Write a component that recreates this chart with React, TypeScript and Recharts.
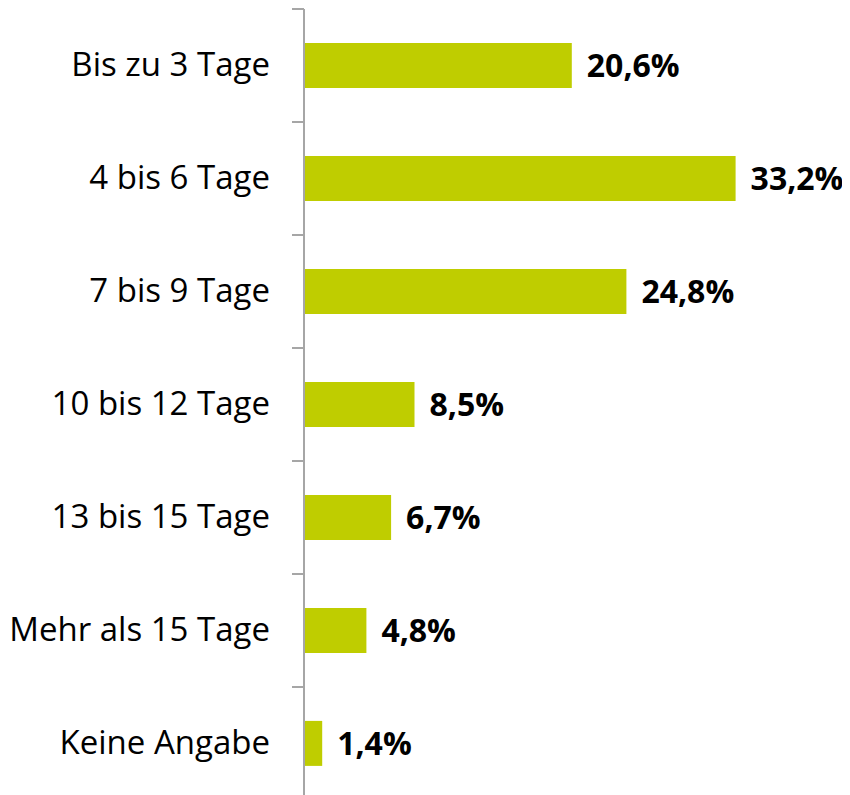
import React from 'react'
import { BarChart, Bar, XAxis, YAxis, LabelList } from 'recharts'

const categories = [
  'Bis zu 3 Tage',
  '4 bis 6 Tage',
  '7 bis 9 Tage',
  '10 bis 12 Tage',
  '13 bis 15 Tage',
  'Mehr als 15 Tage',
  'Keine Angabe',
]
const shares = [20.6, 33.2, 24.8, 8.5, 6.7, 4.8, 1.4]

const data = categories.map((name, i) => ({ name, value: shares[i] }))

const FONT = '"Open Sans", "Noto Sans", sans-serif'
const CHART_H = 792
const MARGIN_TOP = 1
const BAND = (CHART_H - MARGIN_TOP) / categories.length
const AXIS_GRAY = '#a6a6a6'

const fmt = (v: any) => Number(v).toFixed(1).replace('.', ',') + '%'

// label at band centre, tick mark at the band's upper edge
function CategoryTick(props: any) {
  const { x, y, payload, index } = props
  const axisX = x + 34
  const top = y - BAND / 2
  return (
    <g>
      <line x1={axisX - 12} x2={axisX} y1={top} y2={top} stroke={AXIS_GRAY} strokeWidth={2} />
      {index === categories.length - 1 && (
        <line x1={axisX - 12} x2={axisX} y1={top + BAND} y2={top + BAND} stroke={AXIS_GRAY} strokeWidth={2} />
      )}
      <text x={x} y={y} dy={10} textAnchor="end" fill="#000" fontSize={33} fontFamily={FONT}>
        {payload.value}
      </text>
    </g>
  )
}

export default function App() {
  return (
    <BarChart
      width={834}
      height={CHART_H}
      data={data}
      layout="vertical"
      margin={{ top: MARGIN_TOP, right: 18, bottom: 0, left: 0 }}
      barCategoryGap="30%"
    >
      <XAxis type="number" domain={[0, 40]} hide />
      <YAxis
        type="category"
        dataKey="name"
        width={296}
        axisLine={{ stroke: AXIS_GRAY, strokeWidth: 2 }}
        tickLine={false}
        tickSize={12}
        tickMargin={22}
        tick={<CategoryTick />}
        interval={0}
      />
      <Bar dataKey="value" fill="#bfcd00" isAnimationActive={false}>
        <LabelList
          dataKey="value"
          position="right"
          offset={15}
          formatter={fmt}
          fill="#000"
          fontSize={32}
          fontWeight="bold"
          fontFamily={FONT}
        />
      </Bar>
    </BarChart>
  )
}
